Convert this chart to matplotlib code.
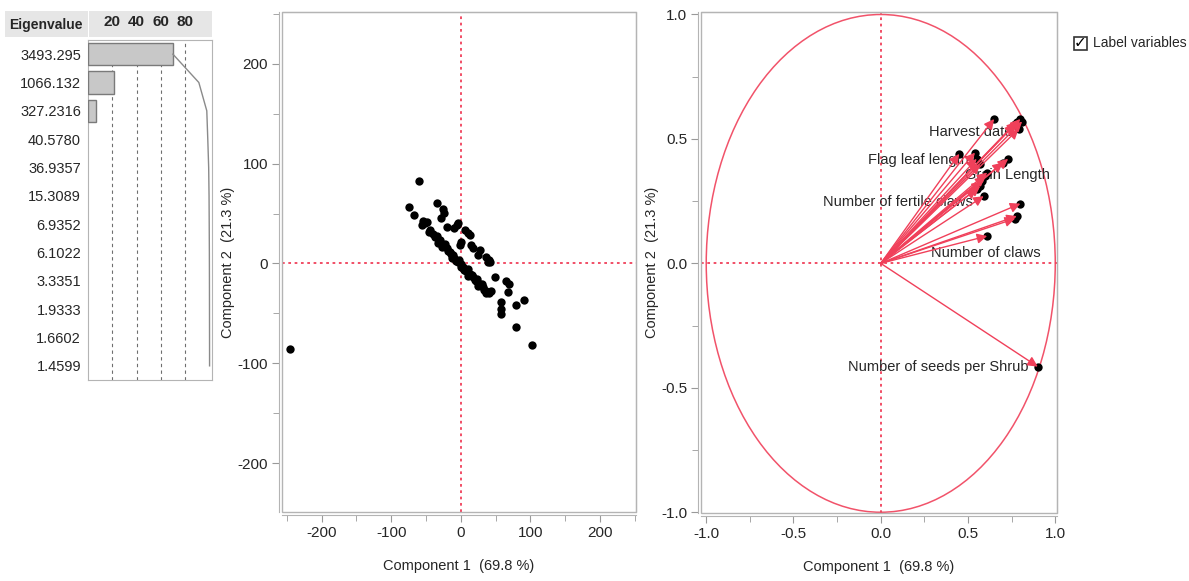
import numpy as np
import matplotlib
matplotlib.use("Agg")
import matplotlib.pyplot as plt
from matplotlib.patches import Rectangle, Ellipse
from matplotlib.ticker import MultipleLocator

plt.rcParams['font.family'] = ['Liberation Sans', 'DejaVu Sans']
plt.rcParams['axes.unicode_minus'] = False

# eigenvalue table
eigenvalues = [3493.295, 1066.132, 327.2316, 40.5780, 36.9357, 15.3089,
               6.9352, 6.1022, 3.3351, 1.9333, 1.6602, 1.4599]
eig_labels = ['3493.295', '1066.132', '327.2316', '40.5780', '36.9357', '15.3089',
              '6.9352', '6.1022', '3.3351', '1.9333', '1.6602', '1.4599']
pct_ticks = [20, 40, 60, 80]

# score plot (component 1, component 2)
score_pc1 = [-245, -60, -75, -67, -54, -49, -56, -52,
             -34, -26, -24, -28, -20, -9, -4, -6,
             6, 10, 13, 1, -1, 15, 18, 27, 25, 37, 41, 42, 39,
             49, 65, 70, 68, 58, 58, 58, 80, 91, 80, 102,
             -44, -46, -40, -37, -34, -30, -32, -25, -27, -22, -20, -18, -16, -14,
             -11, -12, -9, -7, -4, -2, 1, 0, 3, 5, 8, 10, 13, 11, 16, 18, 20, 22,
             24, 27, 25, 30, 32, 34, 37, 37, 41, 43]
score_pc2 = [-86, 83, 57, 49, 43, 42, 39, 41,
             61, 55, 51, 46, 37, 36, 41, 39,
             34, 31, 29, 22, 19, 19, 16, 14, 9, 7, 4, 1, 2,
             -14, -18, -21, -29, -39, -46, -51, -42, -37, -64, -82,
             34, 32, 30, 27, 28, 24, 21, 19, 17, 20, 16, 13, 12, 10,
             9, 6, 6, 3, 2, 4, -1, -4, -4, -7, -8, -6, -11, -13, -12, -14, -17, -18,
             -16, -21, -23, -21, -24, -27, -28, -30, -30, -28]

# loading plot
load_pc1 = [0.65, 0.78, 0.80, 0.81, 0.77, 0.79,
            0.45, 0.54, 0.55, 0.57, 0.70, 0.73,
            0.61, 0.60, 0.58, 0.55, 0.57, 0.59,
            0.80, 0.78, 0.77, 0.61, 0.90]
load_pc2 = [0.58, 0.57, 0.58, 0.57, 0.56, 0.54,
            0.44, 0.445, 0.42, 0.40, 0.405, 0.42,
            0.365, 0.35, 0.33, 0.30, 0.31, 0.27,
            0.24, 0.19, 0.18, 0.11, -0.415]
var_names = ['Harvest date', 'Flag leaf length', 'Grain Length',
             'Number of fertile claws', 'Number of claws', 'Number of seeds per Shrub']
name_x = [0.756, 0.504, 0.968, 0.527, 0.917, 0.848]
name_y = [0.527, 0.414, 0.354, 0.245, 0.040, -0.418]

RED = '#f0405a'
FRAME = '#b4b4b4'
TXT = '#262626'

fig = plt.figure(figsize=(11.89, 5.81), dpi=100)
W, H = 1189, 581


def px_axes(x0, y0, x1, y1):
    return fig.add_axes([x0 / W, 1 - y1 / H, (x1 - x0) / W, (y1 - y0) / H])


# ---- eigenvalue panel
fig.patches.append(Rectangle((5 / W, 1 - 37 / H), 83 / W, 26 / H, transform=fig.transFigure,
                             fc='#e6e6e6', ec='none', zorder=-1))
fig.patches.append(Rectangle((89 / W, 1 - 37 / H), 123 / W, 26 / H, transform=fig.transFigure,
                             fc='#e6e6e6', ec='none', zorder=-1))
fig.text(83 / W, 1 - 24.5 / H, 'Eigenvalue', ha='right', va='center', fontsize=10,
         fontweight='bold', color=TXT)

ax0 = px_axes(88, 40, 212, 380)
n = len(eigenvalues)
rows = np.arange(1, n + 1)
pct = np.array(eigenvalues) / sum(eigenvalues) * 100
big = pct >= 1
ax0.barh(rows[big], pct[big], height=0.78, color='#c8c8c8', edgecolor='#7a7a7a',
         linewidth=1, zorder=3)
ax0.plot(np.cumsum(pct), rows, color='#8a8a8a', lw=1, zorder=4)
for v in pct_ticks:
    ax0.axvline(v, color='#6e6e6e', ls=(0, (3, 3)), lw=0.8, zorder=1)
ax0.set_xlim(0, 102)
ax0.set_ylim(n + 0.5, 0.5)
ax0.set_yticks(rows)
ax0.set_yticklabels(eig_labels, fontsize=10.5, color=TXT)
ax0.xaxis.tick_top()
ax0.set_xticks(pct_ticks)
ax0.set_xticklabels([str(v) for v in pct_ticks], fontsize=11, fontweight='bold', color=TXT)
ax0.tick_params(length=0, pad=5)
ax0.tick_params(axis='x', pad=8)
for s in ax0.spines.values():
    s.set_color(FRAME)


def style_axes(ax):
    for s in ax.spines.values():
        s.set_color(FRAME)
    ax.spines['left'].set_position(('outward', 2))
    ax.spines['bottom'].set_position(('outward', 2))
    ax.add_patch(Rectangle((0, 0), 1, 1, transform=ax.transAxes, fill=False,
                           ec=FRAME, lw=1, clip_on=False, zorder=5))
    ax.tick_params(which='both', direction='out', color='#999999', labelcolor=TXT,
                   labelsize=11, pad=3)
    ax.tick_params(which='major', length=5)
    ax.tick_params(which='minor', length=4)
    ax.axhline(0, color=RED, ls=(0, (1.5, 2)), lw=1.3, zorder=1)
    ax.axvline(0, color=RED, ls=(0, (1.5, 2)), lw=1.3, zorder=1)
    for t, loc in zip(ax.xaxis.get_major_ticks(), ax.get_xticks()):
        if abs(loc) < 1e-9:
            t.tick1line.set_color(RED)
    for t, loc in zip(ax.yaxis.get_major_ticks(), ax.get_yticks()):
        if abs(loc) < 1e-9:
            t.tick1line.set_color(RED)


# ---- score plot
ax1 = px_axes(282, 12, 636, 512)
ax1.scatter(score_pc1, score_pc2, s=36, color='black', zorder=3, linewidths=0)
ax1.set_xlim(-257, 252)
ax1.set_ylim(-249, 252)
ax1.set_xticks([-200, -100, 0, 100, 200])
ax1.set_yticks([-200, -100, 0, 100, 200])
ax1.xaxis.set_minor_locator(MultipleLocator(50))
ax1.yaxis.set_minor_locator(MultipleLocator(50))
style_axes(ax1)
ax1.set_xlabel('Component 1  (69.8 %)', fontsize=10.5, color=TXT)
ax1.set_ylabel('Component 2  (21.3 %)', fontsize=10.5, color=TXT)
ax1.xaxis.set_label_coords(0.5, -0.094)
ax1.yaxis.set_label_coords(-0.133, 0.5)

# ---- loading plot
ax2 = px_axes(701, 12, 1057, 513)
ax2.add_patch(Ellipse((0, 0), 2, 2, fill=False, ec=RED, lw=1.1, alpha=0.9, zorder=2))
ax2.scatter(load_pc1, load_pc2, s=36, color='black', zorder=3, linewidths=0)
for x, y in zip(load_pc1, load_pc2):
    ax2.annotate('', xy=(x, y), xytext=(0, 0),
                 arrowprops=dict(arrowstyle='-|>', color=RED, lw=1.0, mutation_scale=15,
                                 shrinkA=0, shrinkB=0), zorder=4)
for name, x, y in zip(var_names, name_x, name_y):
    ax2.text(x, y, name, ha='right', va='center', fontsize=10.5, color=TXT, zorder=2.5)
ax2.set_xlim(-1.03, 1.01)
ax2.set_ylim(-1.003, 1.01)
ax2.set_xticks([-1.0, -0.5, 0.0, 0.5, 1.0])
ax2.set_yticks([-1.0, -0.5, 0.0, 0.5, 1.0])
ax2.xaxis.set_minor_locator(MultipleLocator(0.25))
ax2.yaxis.set_minor_locator(MultipleLocator(0.25))
ax2.xaxis.set_major_formatter(lambda v, p: f'{v:.1f}')
ax2.yaxis.set_major_formatter(lambda v, p: f'{v:.1f}')
style_axes(ax2)
ax2.set_xlabel('Component 1  (69.8 %)', fontsize=10.5, color=TXT)
ax2.set_ylabel('Component 2  (21.3 %)', fontsize=10.5, color=TXT)
ax2.xaxis.set_label_coords(0.5, -0.094)
ax2.yaxis.set_label_coords(-0.118, 0.5)

# ---- checkbox
fig.patches.append(Rectangle((1074 / W, 1 - 50 / H), 13 / W, 13 / H, transform=fig.transFigure,
                             fill=False, ec='#333333', lw=1.2))
fig.text(1080.5 / W, 1 - 43 / H, '\u2713', ha='center', va='center', fontsize=11,
         fontweight='bold', color='black', family='DejaVu Sans')
fig.text(1093 / W, 1 - 43 / H, 'Label variables', ha='left', va='center', fontsize=10, color=TXT)

fig.savefig('out.png', dpi=100)
